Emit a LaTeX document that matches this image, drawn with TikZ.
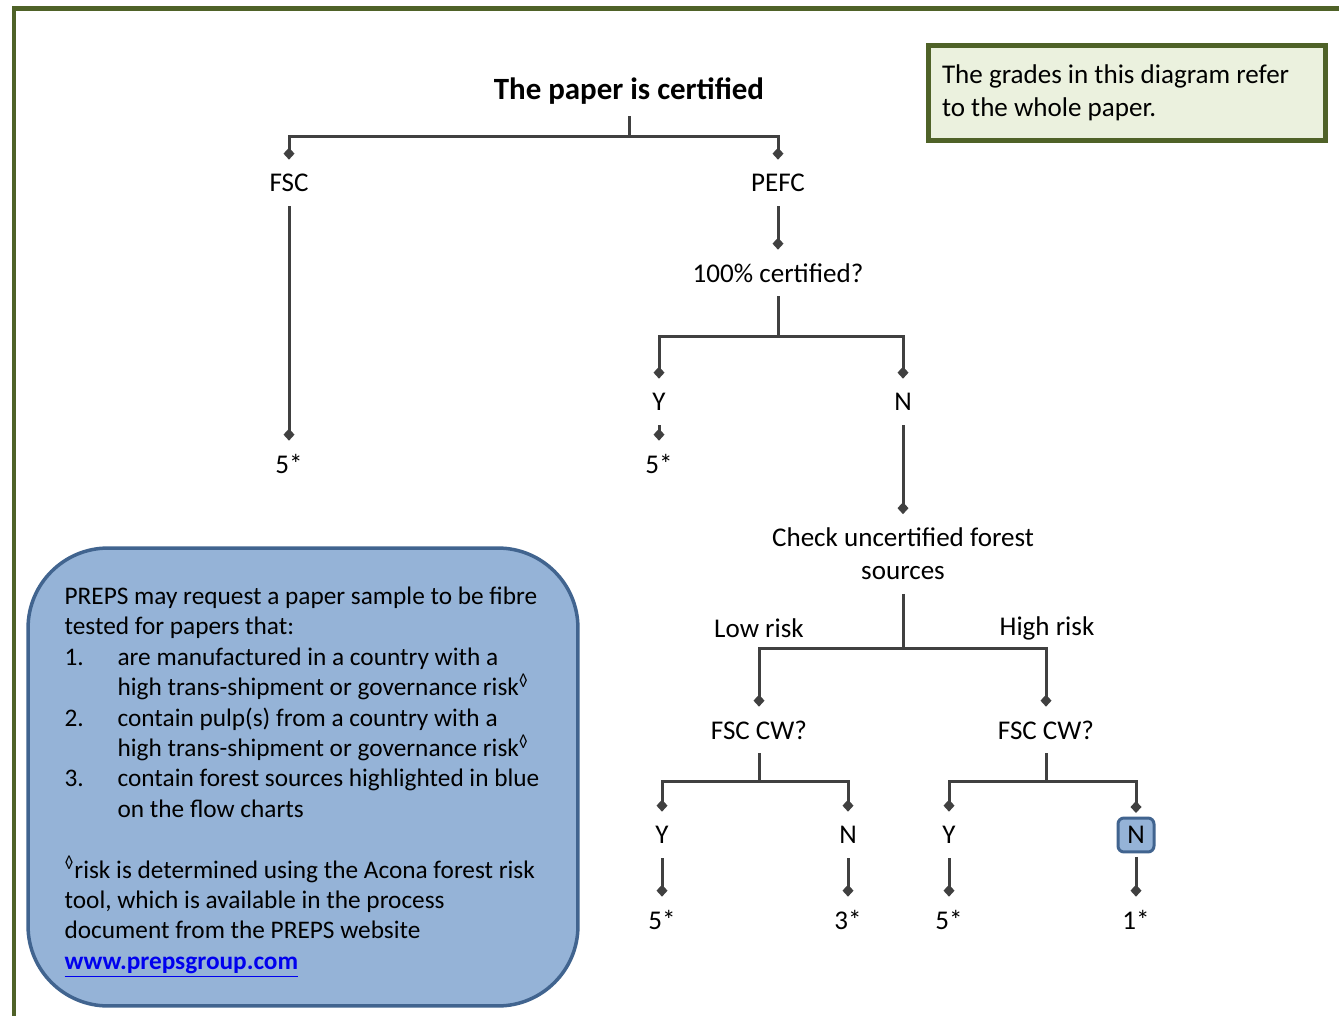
\documentclass[tikz,border=0pt]{standalone}
\usepackage{fontspec}
\setmainfont{Carlito}
\usetikzlibrary{arrows.meta,positioning}
\definecolor{framegreen}{HTML}{4F6228}
\definecolor{notefill}{HTML}{EBF1DE}
\definecolor{infofill}{HTML}{95B3D7}
\definecolor{infoline}{HTML}{41648F}
\definecolor{linkgray}{HTML}{404040}
\definecolor{urlblue}{HTML}{0000EE}

\begin{document}
\begin{tikzpicture}[x=0.02cm,y=-0.02cm,
    lbl/.style={minimum height=0.92cm,inner sep=0pt,font=\fontsize{15.4}{18.8}\selectfont},
    link/.style={line width=0.06cm,draw=linkgray},
    tip/.style={link,-{Diamond[length=0.24cm,width=0.22cm]}},
    nbox/.style={lbl,fill=infofill,draw=infoline,line width=0.06cm,rounded corners=0.12cm,
      minimum width=0.72cm,minimum height=0.68cm,outer sep=0.1cm}]
  \clip (0,0) rectangle (1339,1016);
  \draw[framegreen,line width=0.1cm] (14,1030) -- (14,8.5) -- (1350,8.5);

  \node[lbl,text width=7.4cm,align=flush left,inner xsep=0.27cm,minimum height=1.89cm,
    fill=notefill,draw=framegreen,line width=0.1cm]
    (note) at (1127,93) {The grades in this diagram refer\\to the whole paper.};

  \node[lbl,font=\bfseries\fontsize{17.6}{21}\selectfont,minimum height=1cm] (top) at (629,91) {The paper is certified};
  \node[lbl] (fsc) at (289,183) {FSC};
  \node[lbl] (pefc) at (778,183) {PEFC};
  \node[lbl] (fscgrade) at (289,464) {5*};
  \node[lbl] (full) at (778,273) {100\% certified?};
  \node[lbl] (yfull) at (659,402) {Y};
  \node[lbl] (nfull) at (903,402) {N};
  \node[lbl] (yfullgrade) at (659,464) {5*};
  \node[lbl,align=center,minimum height=1.58cm] (check) at (903,554) {Check uncertified forest\\sources};
  \node[lbl] (low) at (759,628) {Low risk};
  \node[lbl] (high) at (1047,628) {High risk};
  \node[lbl] (cwlow) at (759,730) {FSC CW?};
  \node[lbl] (cwhigh) at (1046,730) {FSC CW?};
  \node[lbl] (ylow) at (662,835) {Y};
  \node[lbl] (nlow) at (848,835) {N};
  \node[lbl] (yhigh) at (949,835) {Y};
  \node[nbox] (nhigh) at (1136,835) {N};
  \node[lbl] (ylowgrade) at (662,920) {5*};
  \node[lbl] (nlowgrade) at (848,920) {3*};
  \node[lbl] (yhighgrade) at (949,920) {5*};
  \node[lbl] (nhighgrade) at (1136,920) {1*};

  \draw[link] (top.south) -- ++(0,20) coordinate (splittop);
  \draw[tip] (splittop) -| (fsc.north);
  \draw[tip] (splittop) -| (pefc.north);
  \draw[tip] (fsc) -- (fscgrade);
  \draw[tip] (pefc) -- (full);
  \draw[link] (full.south) -- ++(0,40) coordinate (splitfull);
  \draw[tip] (splitfull) -| (yfull.north);
  \draw[tip] (splitfull) -| (nfull.north);
  \draw[tip] (yfull) -- (yfullgrade);
  \draw[tip] (nfull) -- (check);
  \draw[link] (check.south) -- ++(0,55) coordinate (splitcheck);
  \draw[tip] (splitcheck) -| (cwlow.north);
  \draw[tip] (splitcheck) -| (cwhigh.north);
  \draw[link] (cwlow.south) -- ++(0,28) coordinate (splitlow);
  \draw[tip] (splitlow) -| (ylow.north);
  \draw[tip] (splitlow) -| (nlow.north);
  \draw[link] (cwhigh.south) -- ++(0,28) coordinate (splithigh);
  \draw[tip] (splithigh) -| (yhigh.north);
  \draw[tip] (splithigh) -| (nhigh.north);
  \draw[tip] (ylow) -- (ylowgrade);
  \draw[tip] (nlow) -- (nlowgrade);
  \draw[tip] (yhigh) -- (yhighgrade);
  \draw[tip] (nhigh) -- (nhighgrade);

  \node[fill=infofill,draw=infoline,line width=0.07cm,rounded corners=1.6cm,
    minimum width=11cm,minimum height=9.16cm] (info) at (303,777) {};
  \node[lbl,align=left,font=\fontsize{14.4}{17.3}\selectfont] (infotext) at (302,782)
    {PREPS may request a paper sample to be fibre\\
     tested for papers that:\\
     \makebox[1.06cm][l]{1.}are manufactured in a country with a\\
     \hspace*{1.06cm}high trans-shipment or governance risk\textsuperscript{◊}\\
     \makebox[1.06cm][l]{2.}contain pulp(s) from a country with a\\
     \hspace*{1.06cm}high trans-shipment or governance risk\textsuperscript{◊}\\
     \makebox[1.06cm][l]{3.}contain forest sources highlighted in blue\\
     \hspace*{1.06cm}on the flow charts\\[17.3pt]
     \textsuperscript{◊}risk is determined using the Acona forest risk\\
     tool, which is available in the process\\
     document from the PREPS website\\
     \textcolor{urlblue}{\bfseries\underline{www.prepsgroup.com}}};
\end{tikzpicture}
\end{document}
